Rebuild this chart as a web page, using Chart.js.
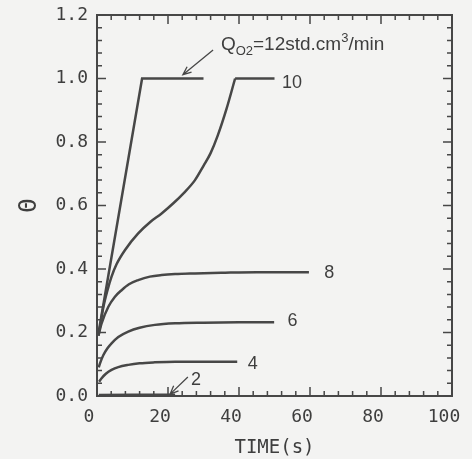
<!DOCTYPE html>
<html>
<head>
<meta charset="utf-8">
<script src="https://cdn.jsdelivr.net/npm/chart.js@4.4.1/dist/chart.umd.min.js"></script>
<style>
  html, body { margin:0; padding:0; background:#f3f3f2; }
</style>
</head>
<body>
<canvas id="c" width="472" height="459"></canvas>
<script>
const INK = "#474747";
const TXT = "#3e3e3e";

// time (s) / theta pairs, one pair of arrays per O2 flow rate
const T12  = [0.4, 12.7, 30];
const TH12 = [0.197, 1.0, 1.0];

// Q=10 rises smoothly, then a sharp corner onto the plateau
const T10  = [0.4, 0.85, 1.8, 3, 4.1, 5.5, 7.9, 11.6, 15, 18.2, 21.5, 24.5, 27.6, 30, 32, 34, 36.5, 38.9];
const TH10 = [0.19, 0.218, 0.28, 0.335, 0.376, 0.415, 0.46, 0.512, 0.548, 0.575, 0.607, 0.64, 0.68, 0.725, 0.765, 0.82, 0.905, 1.0];
const T10_TOP  = [38.9, 50];
const TH10_TOP = [1.0, 1.0];

const T8   = [0.4, 1.3, 3.2, 5, 7, 9, 11.6, 14.9, 18.2, 22, 27.6, 35, 45, 59.7];
const TH8  = [0.19, 0.229, 0.281, 0.312, 0.334, 0.352, 0.365, 0.376, 0.381, 0.384, 0.386, 0.388, 0.39, 0.39];

const T6   = [0.5, 0.85, 1.8, 3, 4.1, 6, 8.8, 12, 16.3, 22, 30, 40, 49.9];
const TH6  = [0.09, 0.103, 0.129, 0.151, 0.166, 0.186, 0.203, 0.215, 0.224, 0.229, 0.231, 0.232, 0.232];

const T4   = [0.6, 1.3, 2.5, 4.1, 6, 8.8, 12, 16.3, 22, 30, 39.5];
const TH4  = [0.045, 0.056, 0.07, 0.082, 0.091, 0.098, 0.103, 0.106, 0.108, 0.108, 0.108];

const T2   = [0.5, 10, 22];
const TH2  = [0.003, 0.004, 0.004];

const X_MAJOR = 20;
const Y_MAJOR = 0.2;

function pts(ts, vs){ return ts.map((t,i)=>({x:t, y:vs[i]})); }
function isMajor(v, step){ const k = v/step; return Math.abs(k-Math.round(k)) < 1e-6; }

/* =====================
   frame, inward ticks, labels
===================== */
const frameTicks = {
  id: "frameTicks",
  afterDatasetsDraw(chart){
    const {ctx, chartArea:a, scales:{x, y}} = chart;
    ctx.save();
    ctx.strokeStyle = INK;
    ctx.lineWidth = 2;
    ctx.strokeRect(a.left, a.top, a.right-a.left, a.bottom-a.top);

    ctx.lineWidth = 1.5;
    ctx.beginPath();
    x.ticks.forEach(t=>{
      const p = x.getPixelForValue(t.value);
      const len = isMajor(t.value, X_MAJOR) ? 9 : 5;
      ctx.moveTo(p, a.bottom); ctx.lineTo(p, a.bottom-len);
      ctx.moveTo(p, a.top); ctx.lineTo(p, a.top+len);
    });
    y.ticks.forEach(t=>{
      const p = y.getPixelForValue(t.value);
      const len = isMajor(t.value, Y_MAJOR) ? 9 : 5;
      ctx.moveTo(a.left, p); ctx.lineTo(a.left+len, p);
      ctx.moveTo(a.right, p); ctx.lineTo(a.right-len, p);
    });
    ctx.stroke();

    // curve labels
    const P = (t,v)=>[x.getPixelForValue(t), y.getPixelForValue(v)];
    ctx.fillStyle = TXT;
    ctx.font = "18px 'Liberation Sans', Arial, sans-serif";
    ctx.textAlign = "center";
    ctx.textBaseline = "middle";
    [["10",54.9,0.986],["8",65.4,0.387],["6",55.1,0.235],["4",43.9,0.102],["2",27.9,0.05]]
      .forEach(([s,t,v])=>{ const [px,py]=P(t,v); ctx.fillText(s, px, py); });

    // Q_O2 = 12 std.cm3/min
    ctx.textAlign = "left";
    ctx.textBaseline = "alphabetic";
    let [qx, qy] = P(34.9, 1.09);
    const big = "19px 'Liberation Sans', Arial, sans-serif";
    const small = "13px 'Liberation Sans', Arial, sans-serif";
    const parts = [["Q",big,0],["O2",small,5],["=12std.cm",big,0],["3",small,-8],["/min",big,0]];
    parts.forEach(([s,f,dy])=>{
      ctx.font = f;
      ctx.fillText(s, qx, qy+dy);
      qx += ctx.measureText(s).width;
    });

    // arrows
    ctx.lineWidth = 1.3;
    arrow(ctx, P(32.7,1.09), P(24.2,1.012));
    arrow(ctx, P(25.6,0.06), P(20.6,0.006));
    ctx.restore();
  }
};

function arrow(ctx, [x0,y0], [x1,y1]){
  const ang = Math.atan2(y1-y0, x1-x0);
  const h = 9, w = 0.4;
  ctx.beginPath();
  ctx.moveTo(x0,y0); ctx.lineTo(x1,y1);
  ctx.moveTo(x1 - h*Math.cos(ang-w), y1 - h*Math.sin(ang-w));
  ctx.lineTo(x1,y1);
  ctx.lineTo(x1 - h*Math.cos(ang+w), y1 - h*Math.sin(ang+w));
  ctx.stroke();
}

function ds(ts, vs, smooth){
  return {
    data: pts(ts, vs),
    borderColor: INK,
    borderWidth: 2.5,
    pointRadius: 0,
    fill: false,
    tension: 0,
    borderJoinStyle: "miter",
    cubicInterpolationMode: smooth ? "monotone" : "default"
  };
}

const MONO = "'DejaVu Sans Mono', monospace";

new Chart(document.getElementById("c"), {
  type: "line",
  data: {
    datasets: [
      ds(T12, TH12, false),
      ds(T10, TH10, true),
      ds(T10_TOP, TH10_TOP, false),
      ds(T8, TH8, true),
      ds(T6, TH6, true),
      ds(T4, TH4, true),
      ds(T2, TH2, false)
    ]
  },
  options: {
    responsive: false,
    animation: false,
    layout: { padding: { top: 15, right: 20, left: 0, bottom: 0 } },
    plugins: { legend: { display: false }, tooltip: { enabled: false } },
    scales: {
      x: {
        type: "linear",
        min: 0, max: 100,
        afterFit: s => { s.height = 63; s.paddingLeft = 0; s.paddingRight = 0; },
        grid: { display: false, drawTicks: false },
        border: { display: false },
        ticks: {
          stepSize: 4,
          autoSkip: false,
          maxRotation: 0,
          padding: 11,
          labelOffset: -8,
          color: TXT,
          font: { family: MONO, size: 18 },
          callback: v => isMajor(v, X_MAJOR) ? String(v) : ""
        },
        title: {
          display: true,
          text: "TIME(s)",
          color: TXT,
          font: { family: MONO, size: 19 },
          padding: { top: 0, bottom: 0 }
        }
      },
      y: {
        min: 0, max: 1.2,
        afterFit: s => { s.width = 97; s.paddingTop = 0; s.paddingBottom = 0; },
        grid: { display: false, drawTicks: false },
        border: { display: false },
        ticks: {
          stepSize: 0.04,
          autoSkip: false,
          padding: 9,
          color: TXT,
          font: { family: MONO, size: 18 },
          callback: v => isMajor(v, Y_MAJOR) ? v.toFixed(1) : ""
        },
        title: {
          display: true,
          text: "Θ",
          color: TXT,
          font: { family: MONO, size: 24 },
          padding: { top: 15, bottom: 4 }
        }
      }
    }
  },
  plugins: [frameTicks]
});
</script>
</body>
</html>
